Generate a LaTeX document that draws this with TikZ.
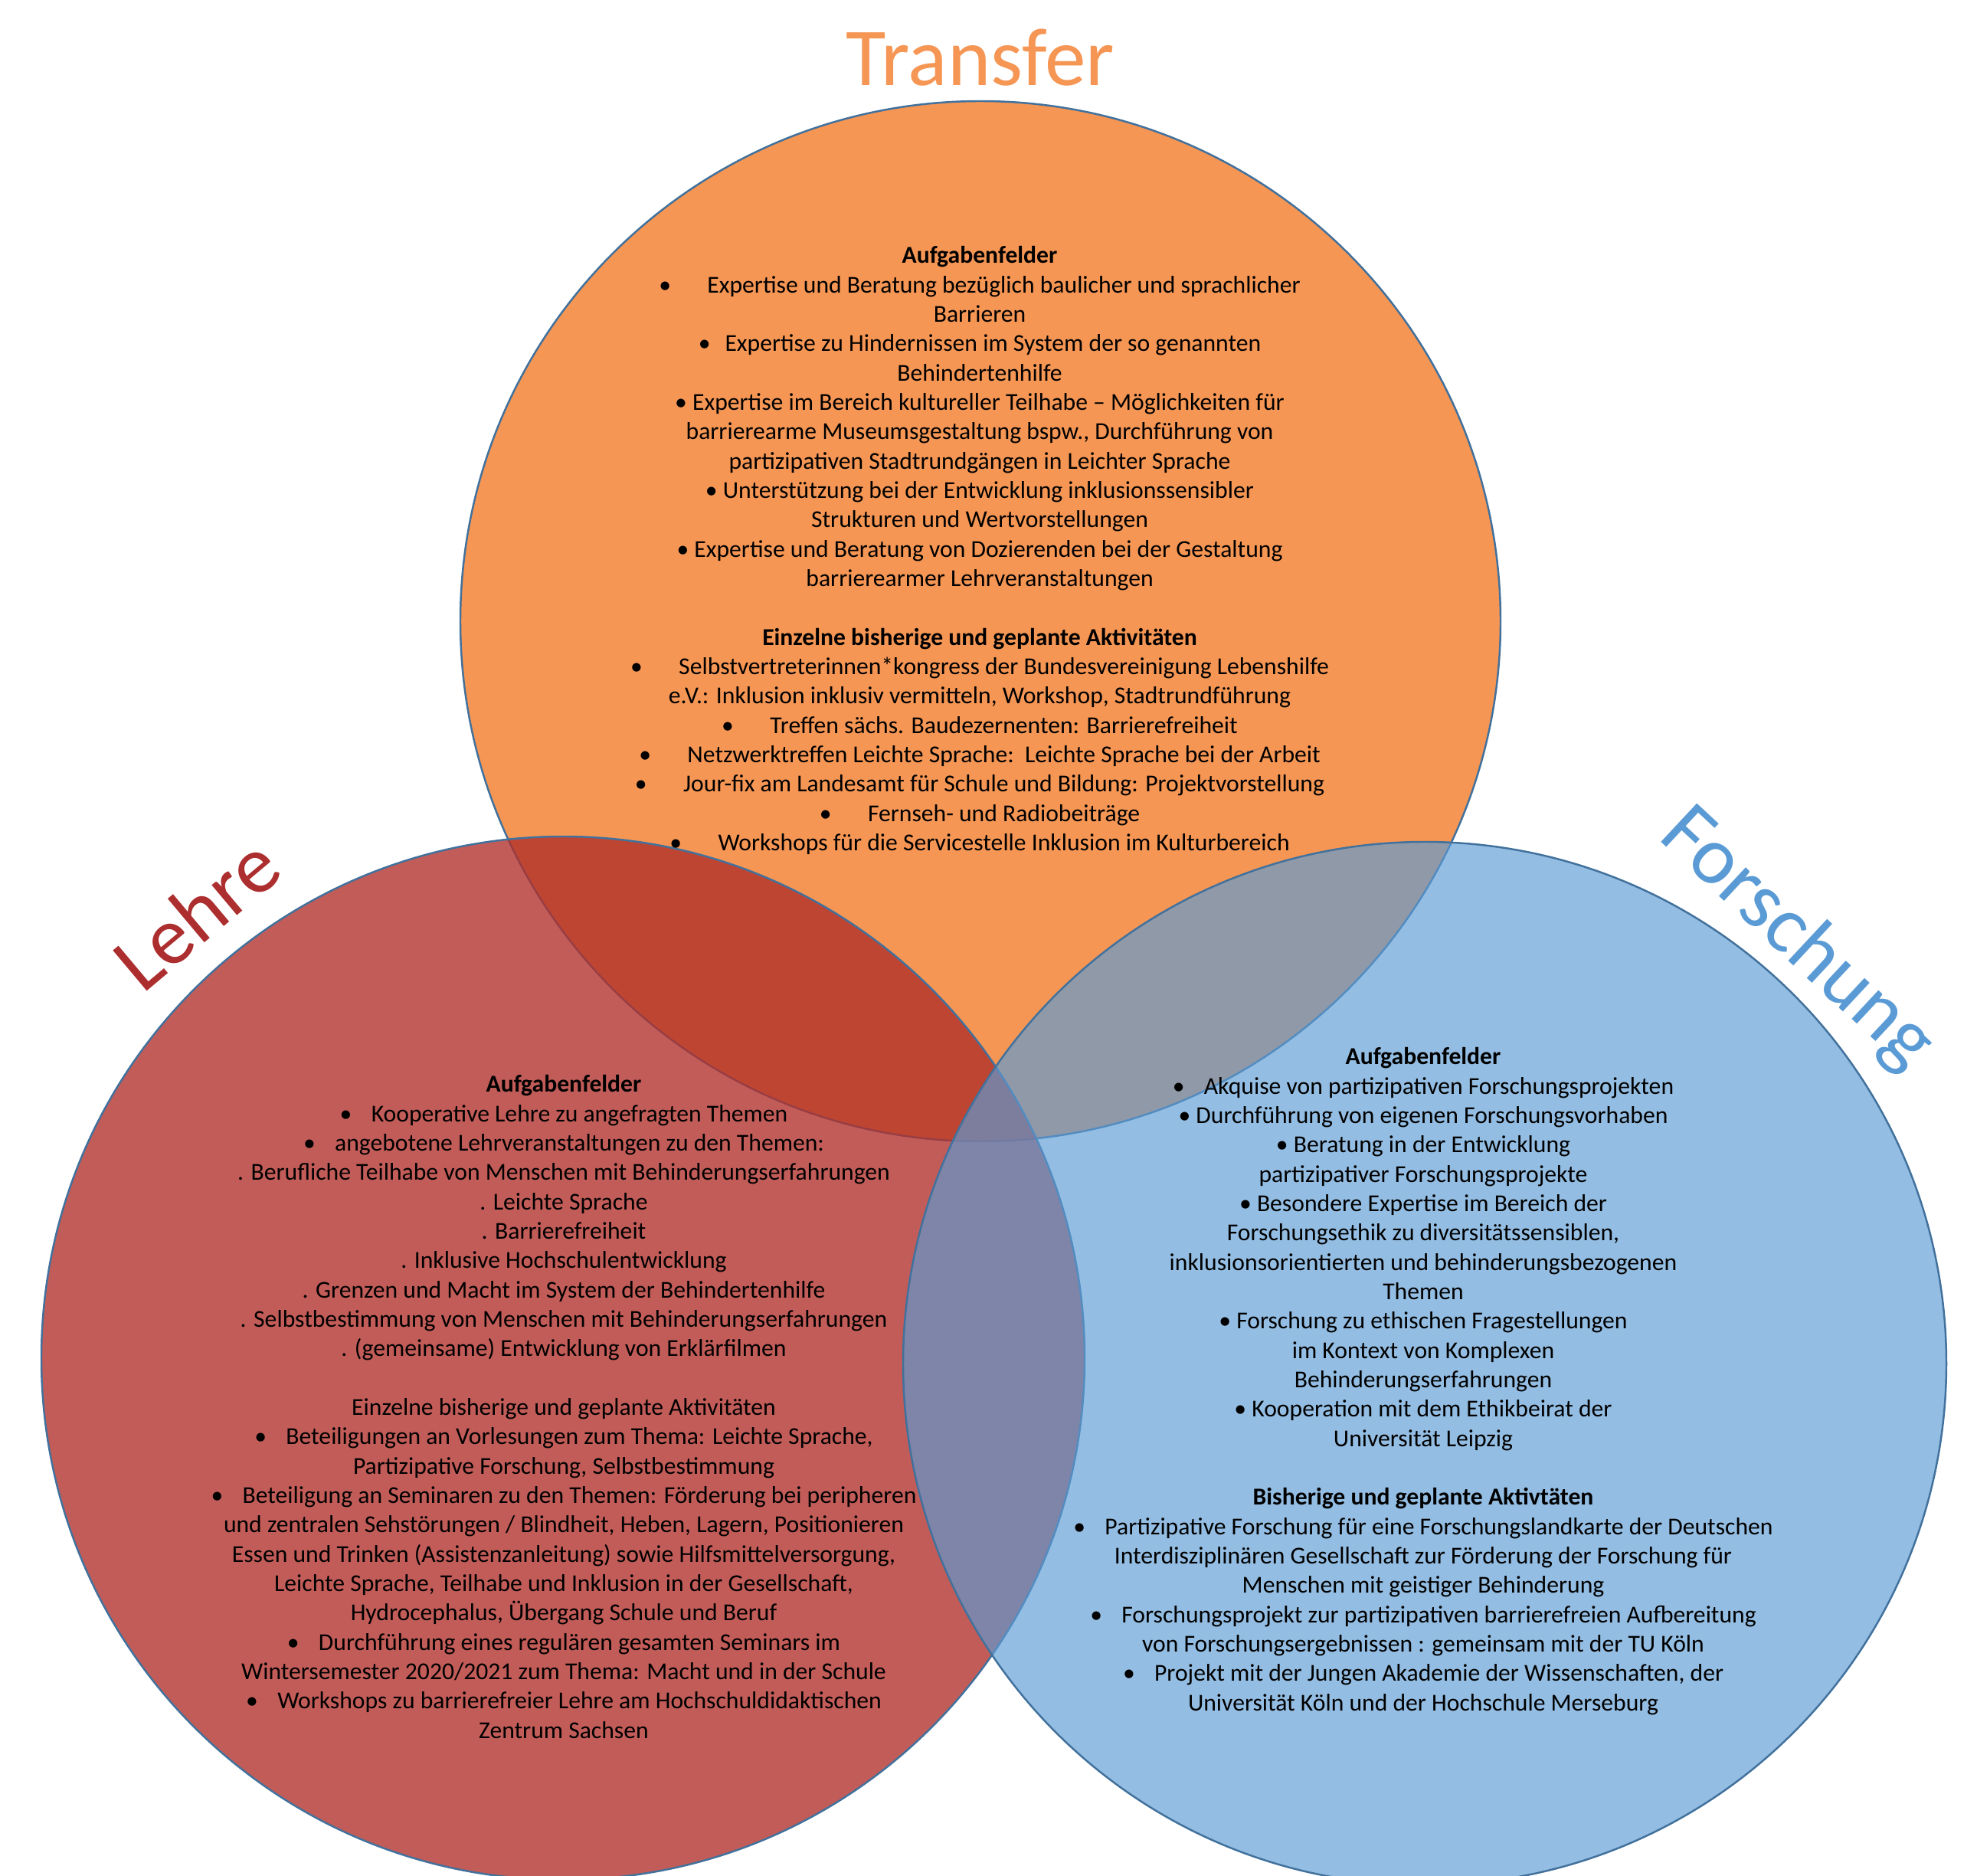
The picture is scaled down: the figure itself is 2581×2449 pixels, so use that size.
\documentclass[tikz,border=0pt]{standalone}
\usepackage{fontspec}
\setmainfont{Carlito}
\usepackage{tikz}
\usetikzlibrary{positioning}
\usepackage{xcolor}
\definecolor{clrTr} {RGB}{245,150, 84}
\definecolor{clrLe} {RGB}{177, 47, 42}
\definecolor{clrLeT}{RGB}{172, 46, 46}
\definecolor{clrFo} {RGB}{ 92,155,212}
\definecolor{clrFoT}{RGB}{ 91,155,213}
\definecolor{clrRim}{RGB}{ 65,113,156}
\newcommand{\bltw}{\textbullet\hspace{1.5em}}
\newcommand{\bltl}{\textbullet\hspace{0.8em}}
\newcommand{\bltm}{\textbullet\hspace{0.6em}}
\newcommand{\bltn}{\textbullet\ }
\tikzset{
  setring/.style={draw=clrRim, line width=0.7pt},
  titlelbl/.style={font=\fontsize{30.5pt}{36pt}\selectfont, inner sep=0pt},
  bodytxt/.style={font=\fontsize{9pt}{10.9pt}\selectfont, align=center,
    inner sep=0pt, text=black, anchor=north},
}

\begin{document}
\begin{tikzpicture}[x=0.01cm, y=-0.01cm]
\clip (0,0) rectangle (2581,2449);
\fill[white] (0,0) rectangle (2581,2449);
\coordinate (cTr) at (1280,811);
\coordinate (cLe) at (735,1773);
\coordinate (cFo) at (1860,1780);
% the three sets
\draw[setring, fill=clrTr] (cTr) circle (679);
\draw[setring, fill=clrLe, fill opacity=0.78] (cLe) circle (681);
\draw[setring, fill=clrFo, fill opacity=0.66] (cFo) circle (681);
% titles
\node[titlelbl, text=clrTr, anchor=base] (ttlTr) at (1280,112) {Transfer};
\node[titlelbl, text=clrLeT, rotate=40] (ttlLe) at (256,1192) {Lehre};
\node[titlelbl, text=clrFoT, rotate=-43] (ttlFo) at (2346,1226) {Forschung};
% Transfer
\node[bodytxt] (txtTr) at (1279,321) {\textbf{Aufgabenfelder}\\
\bltw Expertise und Beratung bezüglich baulicher und sprachlicher\\
Barrieren\\
\bltm Expertise zu Hindernissen im System der so genannten\\
Behindertenhilfe\\
\bltn Expertise im Bereich kultureller Teilhabe – Möglichkeiten für\\
barrierearme Museumsgestaltung bspw., Durchführung von\\
partizipativen Stadtrundgängen in Leichter Sprache\\
\bltn Unterstützung bei der Entwicklung inklusionssensibler\\
Strukturen und Wertvorstellungen\\
\bltn Expertise und Beratung von Dozierenden bei der Gestaltung\\
barrierearmer Lehrveranstaltungen\\[10.9pt]
\textbf{Einzelne bisherige und geplante Aktivitäten}\\
\bltw Selbstvertreterinnen*kongress der Bundesvereinigung Lebenshilfe\\
e.V.: Inklusion inklusiv vermitteln, Workshop, Stadtrundführung\\
\bltw Treffen sächs. Baudezernenten: Barrierefreiheit\\
\bltw Netzwerktreffen Leichte Sprache:\ \ Leichte Sprache bei der Arbeit\\
\bltw Jour-fix am Landesamt für Schule und Bildung: Projektvorstellung\\
\bltw Fernseh- und Radiobeiträge\\
\bltw Workshops für die Servicestelle Inklusion im Kulturbereich};
% Lehre
\node[bodytxt] (txtLe) at (736,1403) {\textbf{Aufgabenfelder}\\
\bltl Kooperative Lehre zu angefragten Themen\\
\bltl angebotene Lehrveranstaltungen zu den Themen:\\
. Berufliche Teilhabe von Menschen mit Behinderungserfahrungen\\
. Leichte Sprache\\
. Barrierefreiheit\\
. Inklusive Hochschulentwicklung\\
. Grenzen und Macht im System der Behindertenhilfe\\
. Selbstbestimmung von Menschen mit Behinderungserfahrungen\\
. (gemeinsame) Entwicklung von Erklärfilmen\\[10.9pt]
Einzelne bisherige und geplante Aktivitäten\\
\bltl Beteiligungen an Vorlesungen zum Thema: Leichte Sprache,\\
Partizipative Forschung, Selbstbestimmung\\
\bltl Beteiligung an Seminaren zu den Themen: Förderung bei peripheren\\
und zentralen Sehstörungen / Blindheit, Heben, Lagern, Positionieren\\
Essen und Trinken (Assistenzanleitung) sowie Hilfsmittelversorgung,\\
Leichte Sprache, Teilhabe und Inklusion in der Gesellschaft,\\
Hydrocephalus, Übergang Schule und Beruf\\
\bltl Durchführung eines regulären gesamten Seminars im\\
Wintersemester 2020/2021 zum Thema: Macht und in der Schule\\
\bltl Workshops zu barrierefreier Lehre am Hochschuldidaktischen\\
Zentrum Sachsen};
% Forschung
\node[bodytxt] (txtFo) at (1858,1367) {\textbf{Aufgabenfelder}\\
\bltl Akquise von partizipativen Forschungsprojekten\\
\bltn Durchführung von eigenen Forschungsvorhaben\\
\bltn Beratung in der Entwicklung\\
partizipativer Forschungsprojekte\\
\bltn Besondere Expertise im Bereich der\\
Forschungsethik zu diversitätssensiblen,\\
inklusionsorientierten und behinderungsbezogenen\\
Themen\\
\bltn Forschung zu ethischen Fragestellungen\\
im Kontext von Komplexen\\
Behinderungserfahrungen\\
\bltn Kooperation mit dem Ethikbeirat der\\
Universität Leipzig\\[10.9pt]
\textbf{Bisherige und geplante Aktivtäten}\\
\bltl Partizipative Forschung für eine Forschungslandkarte der Deutschen\\
Interdisziplinären Gesellschaft zur Förderung der Forschung für\\
Menschen mit geistiger Behinderung\\
\bltl Forschungsprojekt zur partizipativen barrierefreien Aufbereitung\\
von Forschungsergebnissen : gemeinsam mit der TU Köln\\
\bltl Projekt mit der Jungen Akademie der Wissenschaften, der\\
Universität Köln und der Hochschule Merseburg};
\end{tikzpicture}
\end{document}
